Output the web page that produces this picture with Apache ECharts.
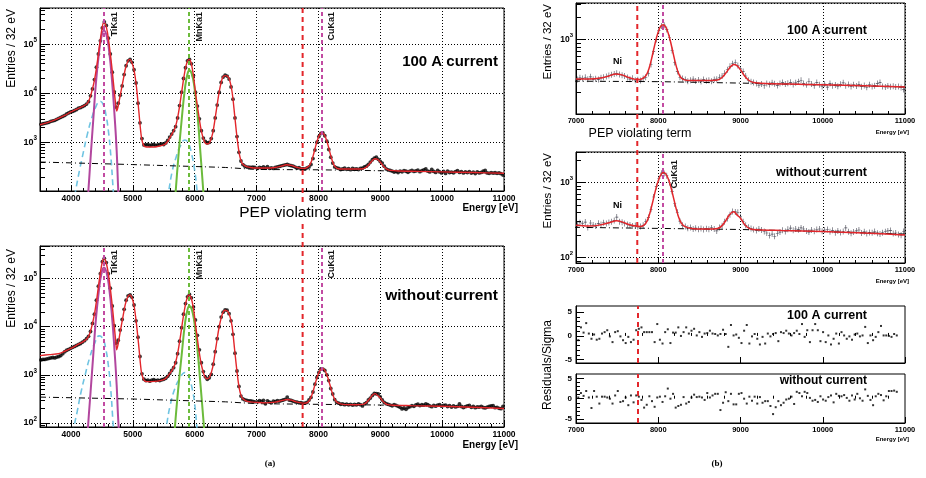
<!DOCTYPE html>
<html><head><meta charset="utf-8">
<script src="https://cdn.jsdelivr.net/npm/echarts@6/dist/echarts.min.js"></script>
<style>html,body{margin:0;padding:0;background:#fff}#c{width:926px;height:478px}</style>
</head><body><div id="c"></div>
<script>
// ---------------- data ----------------
const binWidth = 32;
const leftBinStart = 3516;   // first bin centre of the Ti/Mn region
const rightBinStart = 7016;  // first bin centre of the 7-11 keV region
const resBinStart = 7028;

const xTicksLeft = [4000, 5000, 6000, 7000, 8000, 9000, 10000, 11000];
const xTicksRight = [7000, 8000, 9000, 10000, 11000];
const resTicks = [-5, 0, 5];

const lineTi = 4530, lineMn = 5905, lineCu = 8050, linePEP = 7745;
const niPos = 7505, niTop = 520, niMid = 490;

// 100 A current, 3.5 - 7 keV (entries / 32 eV)
const dataLeftTop = [2340,2400,2450,2510,2570,2690,2750,2820,2950,3090,3240,3390,3550,3800,3980,4170,4270,4470,4680,5010,
5130,5370,5620,6030,6760,8900,12300,19000,33900,63000,117000,214000,282000,240000,132000,63000,26900,10700,5250,6300,
9100,14100,24000,36300,45700,49000,42700,30200,16200,6300,2510,1200,890,890,910,870,890,910,870,890,
910,930,910,980,1100,1290,1480,1740,2090,3160,5620,10500,20000,33100,45700,49000,39800,22900,10500,5500,
3020,1740,1230,1050,980,1000,1200,1740,3160,5750,10500,16600,21400,23400,22400,19500,13500,7600,3160,1320,
630,420,355,330,316,316,310,316,310];
// without current, 3.5 - 7 keV
const dataLeftBot = [2040,2090,2090,2140,2190,2240,2290,2240,2340,2400,2510,2750,3020,3240,3390,3550,3720,3890,4070,4270,
4470,4790,5130,5620,6310,7940,11700,18200,35500,69200,126000,224000,263000,214000,126000,63100,26900,10500,4570,5250,
8510,14100,22900,35500,43700,45700,40700,28200,13200,6030,2400,1050,810,760,780,740,780,790,760,780,
760,790,810,850,930,1070,1230,1410,1780,2750,5010,9550,18200,30200,41700,46800,39800,25700,13800,6610,
3310,1780,1170,910,810,870,1020,1660,3020,5620,10000,15800,20000,22400,21900,18600,13200,6920,2820,1200,
575,363,316,302,295,288,288,282,275];
// 100 A current, 7 - 11 keV
const dataRightTop = [296,312,305,318,300,322,298,304,296,312,318,325,335,342,350,358,346,338,330,316,
300,308,290,294,288,305,318,356,470,700,1010,1320,1520,1560,1370,1060,720,500,380,318,
305,296,282,290,300,284,292,280,296,285,290,282,296,300,318,330,360,400,445,480,
500,455,410,380,330,290,278,270,262,250,258,245,262,254,268,260,248,262,270,258,
264,272,255,268,278,290,262,252,282,258,246,270,252,240,258,235,262,245,250,242,
256,268,246,255,240,252,244,256,238,248,234,252,240,246,262,270,240,236,244,238,
242,236,240,232,218];
// without current, 7 - 11 keV
const dataRightMid = [275,290,282,296,250,288,270,262,285,276,290,284,292,300,310,345,300,294,284,275,
270,262,266,256,258,268,300,340,440,640,880,1120,1330,1320,1230,1000,760,520,400,305,
268,258,245,250,240,246,238,244,236,242,238,248,240,226,250,265,300,330,372,410,
405,400,348,300,268,252,244,236,228,240,232,222,212,196,205,192,210,218,230,222,
238,246,230,240,235,248,240,226,218,232,224,236,240,224,232,236,220,230,214,226,
216,222,248,220,210,218,226,232,212,220,208,216,214,222,210,206,214,220,226,228,
208,212,202,198,222];

// fitted total model [energy eV, entries]
const fitLeftTop = [[3500,2290],[3700,2750],[3900,3550],[4000,4170],[4100,4790],[4200,5500],[4260,6170],[4300,7590],[4340,11200],[4380,18600],
[4420,38000],[4460,89000],[4500,200000],[4530,275000],[4560,251000],[4590,174000],[4620,93300],[4660,35500],[4700,11200],[4725,5620],
[4740,4370],[4760,5250],[4800,9550],[4840,17400],[4880,31600],[4920,44700],[4950,49000],[4980,43700],[5020,29500],[5060,13200],
[5100,3980],[5140,1260],[5180,850],[5220,810],[5300,810],[5400,830],[5500,890],[5550,1000],[5600,1260],[5650,1620],
[5690,2090],[5730,3470],[5770,7080],[5810,15800],[5850,31600],[5880,43700],[5910,49000],[5940,42700],[5980,22900],[6020,8900],
[6065,3630],[6110,1660],[6160,1020],[6200,930],[6240,980],[6290,1510],[6344,3980],[6398,11000],[6452,20900],[6495,22900],
[6549,20900],[6603,11000],[6646,3630],[6683,1320],[6721,590],[6764,380],[6829,325],[6900,310]];
const fitLeftBot = [[3500,2510],[3650,2630],[3800,2750],[3900,3090],[4000,3550],[4100,4170],[4200,4900],[4260,5620],[4300,6920],[4340,10500],
[4380,18200],[4420,39800],[4460,95500],[4500,200000],[4530,263000],[4560,234000],[4590,162000],[4620,91200],[4660,33900],[4700,10500],
[4725,4790],[4740,3310],[4760,4170],[4800,8320],[4840,15800],[4880,29500],[4920,41700],[4950,45700],[4980,41700],[5020,27500],
[5060,11200],[5100,3550],[5140,1120],[5180,776],[5220,724],[5300,724],[5400,741],[5500,794],[5550,890],[5600,1070],
[5650,1350],[5690,1780],[5730,3020],[5770,6310],[5810,14100],[5850,28200],[5880,39800],[5910,45700],[5940,40700],[5980,24000],
[6020,9550],[6065,3550],[6110,1580],[6160,933],[6200,832],[6240,891],[6290,1410],[6344,3800],[6398,10200],[6452,19100],
[6495,21900],[6549,19500],[6603,10500],[6646,3310],[6683,1200],[6721,525],[6764,339],[6829,288],[6900,275]];
const fitRightTop = [[7000,302],[7150,302],[7300,310],[7400,330],[7480,352],[7560,342],[7640,315],[7720,298],[7780,296],[7830,318],
[7858,344],[7888,415],[7918,553],[7948,772],[7978,1058],[8008,1347],[8033,1522],[8058,1585],[8088,1492],[8118,1252],
[8148,955],[8178,686],[8208,494],[8238,380],[8268,323],[8308,296],[8400,288],[8600,288],[8720,292],[8780,318],
[8830,372],[8880,440],[8920,468],[8960,450],[9000,400],[9050,330],[9100,290],[9160,270],[9300,262],[9600,258],
[10000,252],[10500,245],[11000,236]];
const fitRightMid = [[7000,268],[7150,262],[7300,272],[7420,295],[7490,308],[7560,298],[7640,275],[7720,262],[7780,258],[7830,272],
[7865,308],[7895,380],[7925,508],[7955,699],[7985,935],[8015,1165],[8040,1302],[8065,1352],[8095,1281],[8125,1094],
[8155,855],[8185,629],[8215,458],[8245,351],[8275,293],[8315,262],[8400,244],[8600,240],[8720,244],[8770,262],
[8820,309],[8860,362],[8890,395],[8920,408],[8960,367],[9000,334],[9040,285],[9080,255],[9120,240],[9200,234],
[9500,229],[10000,222],[10500,212],[11000,200]];

// background components (dash-dot)
const bkgTop = [[3500,400],[5000,355],[6500,310],[7000,282],[8000,278],[9000,266],[10000,252],[11000,236]];
const bkgBot = [[3500,345],[5000,315],[6500,275],[7000,252],[8000,244],[9000,236],[10000,222],[11000,205]];

// line components
const tiTop = [[4265,60],[4281,100],[4318,500],[4361,2900],[4404,16200],[4448,57500],[4491,138000],[4534,190000],[4577,148000],[4620,67600],[4663,19000],[4706,3400],[4739,690],[4766,100],[4780,60]];
const tiBot = [[4268,60],[4290,150],[4318,450],[4361,2600],[4404,14500],[4448,51000],[4491,123000],[4534,170000],[4577,132000],[4620,60000],[4663,17000],[4706,3000],[4739,620],[4760,150],[4778,60]];
const tiTailTop = [[4060,80],[4073,100],[4138,270],[4203,650],[4262,1410],[4335,3090],[4400,5250],[4469,6900],[4523,5900],[4566,3630],[4604,1780],[4642,590],[4685,100],[4695,70]];
const tiTailBot = [[4040,60],[4050,83],[4100,170],[4160,420],[4230,1000],[4300,2200],[4380,4400],[4460,6450],[4520,5500],[4566,3300],[4604,1600],[4642,530],[4685,83],[4695,60]];
const mnTop = [[5680,60],[5693,100],[5736,500],[5790,2900],[5844,12900],[5882,24000],[5914,29500],[5952,25100],[5995,13500],[6043,4000],[6086,810],[6140,100],[6152,60]];
const mnBot = [[5670,50],[5681,83],[5730,450],[5790,2600],[5844,11800],[5882,22000],[5914,27000],[5952,23000],[5995,12300],[6043,3600],[6090,720],[6150,83],[6160,50]];
const mnTailTop = [[5565,70],[5580,100],[5640,270],[5700,500],[5760,810],[5843,1120],[5900,950],[5950,590],[6000,270],[6040,100],[6050,70]];
const mnTailBot = [[5530,60],[5543,83],[5600,220],[5680,520],[5760,850],[5843,1120],[5900,950],[5950,590],[6000,250],[6035,83],[6045,60]];

// residuals / sigma
const resTop = [-0.9,1.8,0.7,2.7,0.5,-0.6,0.3,-0.8,-0.6,0.5,0.8,1.2,-0.1,-1.3,0.8,1.0,-0.1,-0.9,-1.5,-0.2,
-1.3,-0.8,1.2,1.5,1.8,0.8,0.8,0.8,0.8,-1.3,2.5,-0.8,-1.6,0.8,1.4,-1.5,0.7,0.7,1.8,0.0,
0.8,1.8,0.5,1.1,1.5,0.1,0.8,-0.2,0.5,0.6,1.1,0.5,0.4,0.1,0.4,1.3,0.4,-2.3,2.3,0.1,
0.3,-0.4,-1.5,1.1,2.3,-1.6,-0.1,0.4,-0.6,-1.8,-0.2,-1.6,0.5,-0.1,0.4,0.6,-1.1,0.8,0.6,1.1,
0.5,0.1,0.6,1.1,0.4,2.5,-0.2,1.2,-1.3,1.2,2.5,1.2,-1.1,0.8,-1.3,0.1,-1.8,-0.6,0.5,-1.6,
0.8,0.1,-0.6,-0.1,-0.8,0.3,0.5,-0.1,0.1,1.9,-1.5,0.1,-0.9,-0.2,0.8,2.1,0.1,0.1,0.0,-0.2,
0.4,0.1];
const resBot = [0.3,1.4,0.7,1.9,0.3,-2.3,1.9,0.5,-1.2,0.5,0.5,0.3,0.0,-1.2,0.8,1.9,-0.8,-0.6,0.3,-1.6,
0.8,-0.9,0.8,0.5,-0.3,-2.2,-1.5,0.6,-0.6,-2.0,0.3,0.5,-0.8,0.6,2.5,0.0,1.2,-2.2,-1.8,-1.5,
0.4,-1.2,-0.8,0.3,1.0,0.4,0.5,0.3,-0.3,1.4,0.3,0.8,1.2,1.2,-2.8,-1.0,1.6,-0.6,1.2,-1.4,
-1.4,1.2,1.4,0.0,-1.2,0.5,-0.5,0.5,-1.2,0.4,-1.0,-0.6,-0.6,-1.8,-3.8,-2.1,-0.6,-1.6,-1.0,-0.2,
0.0,0.5,-1.3,1.7,1.4,0.6,1.7,1.4,0.2,-0.5,-0.3,-0.8,0.6,-0.2,-0.5,0.4,0.8,-0.9,1.2,0.7,
0.6,0.9,0.2,-0.5,0.8,-0.2,1.2,0.1,-0.5,2.3,0.7,-0.3,-1.6,0.6,1.2,0.9,-0.4,0.6,1.9,1.9,
2.0,1.7];

// ---------------- helpers ----------------
const FONT = '"Liberation Sans", Arial, Helvetica, sans-serif';
const RED = '#e3262b', MAG = '#c24ba2', MAGC = '#b2469e', GRN = '#6cbb3c', CYAN = '#6fc4e2';
const binned = (start, vals) => vals.map((v, i) => [start + i * binWidth, v]);
const minorX = (a, b) => { const t = []; for (let v = a; v <= b; v += 200) if (v % 1000) t.push(v); return t; };
const plain = (v) => String(v);

function logLabel(v) {
  const e = Math.log10(v), r = Math.round(e);
  if (Math.abs(e - r) > 1e-3) return '';
  return '{a|10}{b|' + r + '}';
}
const richLog = (fs) => ({
  a: {fontSize: fs, fontWeight: 'bold', fontFamily: FONT, color: '#000', lineHeight: 14, verticalAlign: 'middle'},
  b: {fontSize: fs * 0.7, fontWeight: 'bold', fontFamily: FONT, color: '#000', lineHeight: 14, verticalAlign: 'top'}
});
const dotted = {show: true, lineStyle: {color: '#000', type: [1, 2], width: 1}};

function xMain(g, min, max, ticks, labels, fs, margin, split) {
  return {type: 'value', gridIndex: g, min, max, position: 'bottom',
    axisLine: {show: true, onZero: false, lineStyle: {color: '#000', width: 1}},
    axisTick: {show: true, inside: true, length: 6, customValues: ticks, lineStyle: {color: '#000'}},
    axisLabel: {show: labels, customValues: ticks, formatter: plain, fontSize: fs, fontWeight: 'bold', color: '#000', margin, fontFamily: FONT},
    splitLine: split ? dotted : {show: false}};
}
function xMinor(g, min, max, ticks) {
  return {type: 'value', gridIndex: g, min, max, position: 'bottom',
    axisLine: {show: false}, axisLabel: {show: false}, splitLine: {show: false},
    axisTick: {show: true, inside: true, length: 3, customValues: ticks, lineStyle: {color: '#000'}}};
}
function yLog(g, min, max, fs) {
  return {type: 'log', logBase: 10, gridIndex: g, min, max, position: 'left',
    axisLine: {show: true, onZero: false, lineStyle: {color: '#000'}},
    axisTick: {show: true, inside: true, length: 10, lineStyle: {color: '#000'}},
    minorTick: {show: true, splitNumber: 9, length: 5, lineStyle: {color: '#000'}},
    axisLabel: {formatter: logLabel, rich: richLog(fs), margin: 3},
    splitLine: dotted};
}
function yRes(g, min, max) {
  return {type: 'value', gridIndex: g, min, max, position: 'left',
    axisLine: {show: true, onZero: false, lineStyle: {color: '#000'}},
    axisTick: {show: true, inside: true, length: 8, customValues: resTicks, lineStyle: {color: '#000'}},
    axisLabel: {customValues: resTicks, fontSize: 8, fontWeight: 'bold', color: '#000', margin: 4, fontFamily: FONT},
    splitLine: {show: false}};
}
function yResMinor(g, min, max) {
  return {type: 'value', gridIndex: g, min, max, position: 'left',
    axisLine: {show: false}, axisLabel: {show: false}, splitLine: {show: false},
    axisTick: {show: true, inside: true, length: 4, customValues: [-4,-3,-2,-1,1,2,3,4], lineStyle: {color: '#000'}}};
}
const gridBox = (left, top, width, height, show) => ({left, top, width, height, show, borderColor: '#000', borderWidth: 1, outerBoundsMode: 'none', containLabel: false});

// label distance: [offset down from the panel top, offset to the right of the line]
const vline = (x, color, text, dist) => ({
  xAxis: x, lineStyle: {color, type: [4, 3], width: 2},
  label: text ? {show: true, formatter: text, position: 'insideEndBottom', distance: dist || [4, 6], fontSize: 9, fontWeight: 'bold', color: '#111', fontFamily: FONT} : {show: false}
});
const mkLine = (data) => ({symbol: ['none', 'none'], silent: true, animation: false, data});

const lineS = (xi, yi, data, color, width, type, smooth, z) => ({type: 'line', xAxisIndex: xi, yAxisIndex: yi, data,
  showSymbol: false, symbol: 'none', smooth: smooth, lineStyle: {color, width, type: type || 'solid'}, z: z || 2, animation: false});
const dots = (xi, yi, data) => ({type: 'scatter', xAxisIndex: xi, yAxisIndex: yi, data, symbol: 'circle', symbolSize: 3.8,
  itemStyle: {color: '#000'}, z: 1, animation: false});
const CROSS = 'path://M1.2,0 L1.8,0 L1.8,6 L1.2,6 Z M0,2.7 L3,2.7 L3,3.3 L0,3.3 Z';
const crosses = (xi, yi, data) => ({type: 'scatter', xAxisIndex: xi, yAxisIndex: yi, data, symbol: CROSS, symbolSize: [3, 6],
  itemStyle: {color: '#1a1a2a'}, z: 1, animation: false});
const niMark = (y) => ({symbol: 'circle', symbolSize: 1, itemStyle: {color: 'rgba(0,0,0,0)'}, silent: true, animation: false,
  label: {show: true, position: 'inside', formatter: 'Ni', fontSize: 9, fontWeight: 'bold', color: '#000', fontFamily: FONT},
  data: [{coord: [niPos, y]}]});
const pepMark = () => ({symbol: ['none', 'none'], silent: true, animation: false, label: {show: false},
  data: [{xAxis: linePEP, lineStyle: {color: RED, type: [5, 4], width: 2}}]});

const leftTopPts = binned(leftBinStart, dataLeftTop).concat(binned(rightBinStart, dataRightTop));
const leftBotPts = binned(leftBinStart, dataLeftBot).concat(binned(rightBinStart, dataRightMid));
const resPts = (vals) => vals.map((v, i) => [resBinStart + i * binWidth, v]);

const txt = (x, y, text, font, align, extra) => Object.assign({type: 'text', x, y, z: 100, zlevel: 1,
  style: Object.assign({text, font, fill: '#000', textAlign: align, textVerticalAlign: 'middle', align, verticalAlign: 'middle'}, extra || {})});
const vtxt = (x, y, text, font, align) => Object.assign(txt(x, y, text, font, align), {rotation: Math.PI / 2});

const option = {
  animation: false,
  backgroundColor: '#fff',
  grid: [
    gridBox(40, 8, 464, 183, true),
    gridBox(40, 246, 464, 181, true),
    gridBox(576, 3, 329, 111, true),
    gridBox(576, 152, 329, 111, true),
    gridBox(576, 306, 329, 57, true),
    gridBox(576, 374, 329, 49, true),
    gridBox(40, 8, 464, 419, false),
    gridBox(576, 3, 329, 260, false)
  ],
  xAxis: [
    xMain(0, 3500, 11000, xTicksLeft, true, 8.5, 3, true), xMinor(0, 3500, 11000, minorX(3600, 10800)),
    xMain(1, 3500, 11000, xTicksLeft, true, 8.5, 3, true), xMinor(1, 3500, 11000, minorX(3600, 10800)),
    xMain(2, 7000, 11000, xTicksRight, true, 7.5, 3, true), xMinor(2, 7000, 11000, minorX(7200, 10800)),
    xMain(3, 7000, 11000, xTicksRight, true, 7.5, 3, true), xMinor(3, 7000, 11000, minorX(7200, 10800)),
    xMain(4, 7000, 11000, xTicksRight, false, 7.5, 3, false), xMinor(4, 7000, 11000, minorX(7200, 10800)),
    xMain(5, 7000, 11000, xTicksRight, true, 7.5, 3, false), xMinor(5, 7000, 11000, minorX(7200, 10800)),
    {type: 'value', gridIndex: 6, min: 3500, max: 11000, show: false},
    {type: 'value', gridIndex: 7, min: 7000, max: 11000, show: false}
  ],
  yAxis: [
    yLog(0, 103, 543000, 9), yLog(1, 82.6, 473000, 9), yLog(2, 103.5, 3070, 8.5), yLog(3, 84.4, 2546, 8.5),
    yRes(4, -5.7, 6.3), yRes(5, -6, 6.1),
    {type: 'value', gridIndex: 6, min: 0, max: 1, show: false},
    {type: 'value', gridIndex: 7, min: 0, max: 1, show: false},
    yResMinor(4, -5.7, 6.3), yResMinor(5, -6, 6.1)
  ],
  series: [
    // ---- left top: 100 A current
    dots(0, 0, leftTopPts),
    lineS(0, 0, tiTailTop, CYAN, 1.6, [6, 4], true, 3),
    lineS(0, 0, mnTailTop, CYAN, 1.6, [6, 4], true, 3),
    lineS(0, 0, tiTop, MAGC, 2, 'solid', true, 3),
    lineS(0, 0, mnTop, GRN, 2, 'solid', true, 3),
    lineS(0, 0, bkgTop, '#000', 1, [6, 3, 1, 3], false, 3),
    Object.assign(lineS(0, 0, fitLeftTop.concat(fitRightTop), RED, 1.4, 'solid', 0.3, 4), {
      markLine: mkLine([vline(lineTi, MAG, 'TiKa1'), vline(lineMn, GRN, 'MnKa1'), vline(lineCu, MAG, 'CuKa1')])}),
    // ---- left bottom: without current
    dots(2, 1, leftBotPts),
    lineS(2, 1, tiTailBot, CYAN, 1.6, [6, 4], true, 3),
    lineS(2, 1, mnTailBot, CYAN, 1.6, [6, 4], true, 3),
    lineS(2, 1, tiBot, MAGC, 2, 'solid', true, 3),
    lineS(2, 1, mnBot, GRN, 2, 'solid', true, 3),
    lineS(2, 1, bkgBot, '#000', 1, [6, 3, 1, 3], false, 3),
    Object.assign(lineS(2, 1, fitLeftBot.concat(fitRightMid), RED, 1.4, 'solid', 0.3, 4), {
      markLine: mkLine([vline(lineTi, MAG, 'TiKa1'), vline(lineMn, GRN, 'MnKa1'), vline(lineCu, MAG, 'CuKa1')])}),
    // ---- right top
    crosses(4, 2, binned(rightBinStart, dataRightTop)),
    lineS(4, 2, bkgTop, '#000', 1, [6, 3, 1, 3], false, 3),
    Object.assign(lineS(4, 2, fitRightTop, RED, 1.5, 'solid', 0.3, 4), {
      markLine: mkLine([vline(lineCu, MAG, null)]), markPoint: niMark(niTop)}),
    // ---- right middle
    crosses(6, 3, binned(rightBinStart, dataRightMid)),
    lineS(6, 3, bkgBot, '#000', 1, [6, 3, 1, 3], false, 3),
    Object.assign(lineS(6, 3, fitRightMid, RED, 1.5, 'solid', 0.3, 4), {
      markLine: mkLine([vline(lineCu, MAG, 'CuKa1', [8, 8])]), markPoint: niMark(niMid)}),
    // ---- residuals
    {type: 'scatter', xAxisIndex: 8, yAxisIndex: 4, data: resPts(resTop), symbol: 'rect', symbolSize: 2, itemStyle: {color: '#000'}, animation: false, markLine: pepMark()},
    {type: 'scatter', xAxisIndex: 10, yAxisIndex: 5, data: resPts(resBot), symbol: 'rect', symbolSize: 2, itemStyle: {color: '#000'}, animation: false, markLine: pepMark()},
    // ---- PEP violating term lines spanning the stacked panels
    lineS(12, 6, [[linePEP, 0], [linePEP, 1]], RED, 2, [5, 4], false, 5),
    lineS(13, 7, [[linePEP, 0], [linePEP, 1]], RED, 2, [5, 4], false, 5)
  ],
  graphic: [
    vtxt(12, 9, 'Entries / 32 eV', '12px ' + FONT, 'right'),
    vtxt(12, 249, 'Entries / 32 eV', '12px ' + FONT, 'right'),
    vtxt(548, 4, 'Entries / 32 eV', '11.5px ' + FONT, 'right'),
    vtxt(548, 153, 'Entries / 32 eV', '11.5px ' + FONT, 'right'),
    vtxt(548, 365, 'Residuals/Sigma', '12px ' + FONT, 'center'),
    txt(498, 62, '100 A current', 'bold 15px ' + FONT, 'right'),
    txt(498, 296, 'without current', 'bold 15.5px ' + FONT, 'right'),
    txt(867, 31, '100 A current', 'bold 12.5px ' + FONT, 'right'),
    txt(867, 173, 'without current', 'bold 12.5px ' + FONT, 'right'),
    txt(867, 316, '100 A current', 'bold 12.5px ' + FONT, 'right'),
    txt(867, 381, 'without current', 'bold 12px ' + FONT, 'right'),
    txt(303, 213, 'PEP violating term', '15.5px ' + FONT, 'center', {backgroundColor: '#fff', padding: [0, 0]}),
    txt(640, 134, 'PEP violating term', '12.5px ' + FONT, 'center', {backgroundColor: '#fff', padding: [0, 0]}),
    txt(518, 208, 'Energy [eV]', 'bold 10px ' + FONT, 'right'),
    txt(518, 445, 'Energy [eV]', 'bold 10px ' + FONT, 'right'),
    txt(909, 132, 'Energy [eV]', 'bold 6px ' + FONT, 'right'),
    txt(909, 281, 'Energy [eV]', 'bold 6px ' + FONT, 'right'),
    txt(909, 439, 'Energy [eV]', 'bold 6px ' + FONT, 'right'),
    txt(270, 464, '(a)', 'bold 9px "Liberation Serif", "Times New Roman", serif', 'center'),
    txt(717, 464, '(b)', 'bold 9px "Liberation Serif", "Times New Roman", serif', 'center')
  ]
};
const chart = echarts.init(document.getElementById('c'), null, {renderer: 'canvas'});
chart.setOption(option);
</script></body></html>
